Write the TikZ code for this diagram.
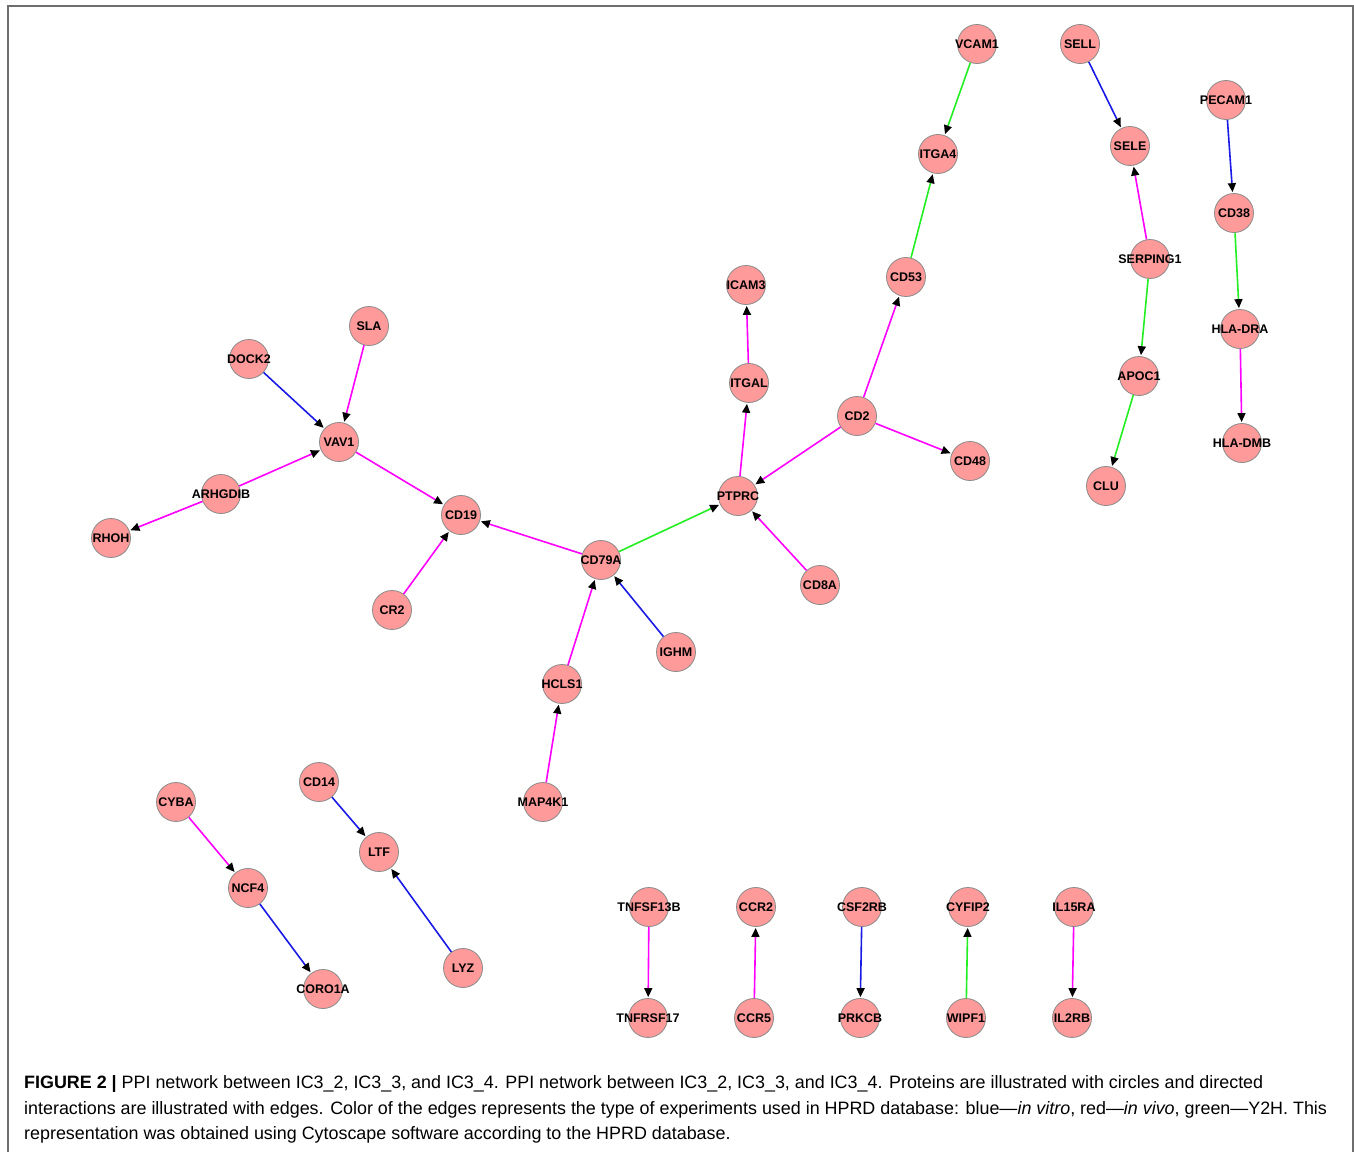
\documentclass[tikz,border=0pt]{standalone}
\usepackage{fontspec}
\setmainfont[Ligatures=TeX]{Liberation Sans}
\newfontfamily\capfont[Ligatures=TeX]{Liberation Sans}
\usetikzlibrary{arrows.meta}
\definecolor{nodefill}{HTML}{FF9A9A}
\definecolor{nodeline}{HTML}{8A8A8A}
\definecolor{emag}{HTML}{FF00FF}
\definecolor{eblue}{HTML}{1A1AE6}
\definecolor{egreen}{HTML}{22EE22}
\definecolor{framecol}{HTML}{6E6E6E}
\newcommand{\plab}[1]{\makebox[0pt][c]{#1}}
\begin{document}
\begin{tikzpicture}[x=1pt,y=-1pt,
  prot/.style={circle,draw=nodeline,line width=0.8pt,fill=nodefill,minimum size=39pt,inner sep=0pt,
    font=\fontsize{12.5}{12.5}\selectfont\bfseries},
  link/.style={line width=1.6pt,-{Triangle[black,length=9pt,width=8pt]},shorten >=1pt},
  mag/.style={link,draw=emag},
  blu/.style={link,draw=eblue},
  grn/.style={link,draw=egreen},
  captext/.style={anchor=west,inner sep=0pt,font=\capfont\fontsize{17.9}{22}\selectfont}]
\useasboundingbox (0,0) rectangle (1354,1151);
\draw[framecol,line width=1.3pt] (8,1170) -- (8,6) -- (1353,6) -- (1353,1170);
% nodes
\node[prot] (VCAM1) at (977,44) {\plab{VCAM1}};
\node[prot] (SELL) at (1080,44) {\plab{SELL}};
\node[prot] (PECAM1) at (1226,100) {\plab{PECAM1}};
\node[prot] (ITGA4) at (938,154) {\plab{ITGA4}};
\node[prot] (SELE) at (1130,146) {\plab{SELE}};
\node[prot] (CD38) at (1234,213) {\plab{CD38}};
\node[prot] (CD53) at (906,277) {\plab{CD53}};
\node[prot] (SERPING1) at (1150,259) {\plab{SERPING1}};
\node[prot] (ICAM3) at (746,285) {\plab{ICAM3}};
\node[prot] (HLADRA) at (1240,329) {\plab{HLA-DRA}};
\node[prot] (SLA) at (369,326) {\plab{SLA}};
\node[prot] (DOCK2) at (249,359) {\plab{DOCK2}};
\node[prot] (ITGAL) at (749,383) {\plab{ITGAL}};
\node[prot] (APOC1) at (1139,376) {\plab{APOC1}};
\node[prot] (CD2) at (857,416) {\plab{CD2}};
\node[prot] (VAV1) at (339,442) {\plab{VAV1}};
\node[prot] (HLADMB) at (1242,443) {\plab{HLA-DMB}};
\node[prot] (CD48) at (970,461) {\plab{CD48}};
\node[prot] (CLU) at (1106,486) {\plab{CLU}};
\node[prot] (ARHGDIB) at (221,494) {\plab{ARHGDIB}};
\node[prot] (PTPRC) at (738,496) {\plab{PTPRC}};
\node[prot] (CD19) at (461,515) {\plab{CD19}};
\node[prot] (RHOH) at (111,538) {\plab{RHOH}};
\node[prot] (CD79A) at (601,560) {\plab{CD79A}};
\node[prot] (CD8A) at (820,585) {\plab{CD8A}};
\node[prot] (CR2) at (392,610) {\plab{CR2}};
\node[prot] (IGHM) at (676,652) {\plab{IGHM}};
\node[prot] (HCLS1) at (562,684) {\plab{HCLS1}};
\node[prot] (CD14) at (319,782) {\plab{CD14}};
\node[prot] (CYBA) at (176,802) {\plab{CYBA}};
\node[prot] (MAP4K1) at (543,802) {\plab{MAP4K1}};
\node[prot] (LTF) at (379,852) {\plab{LTF}};
\node[prot] (NCF4) at (248,888) {\plab{NCF4}};
\node[prot] (LYZ) at (463,968) {\plab{LYZ}};
\node[prot] (CORO1A) at (323,989) {\plab{CORO1A}};
\node[prot] (TNFSF13B) at (649,907) {\plab{TNFSF13B}};
\node[prot] (TNFRSF17) at (648,1018) {\plab{TNFRSF17}};
\node[prot] (CCR2) at (756,907) {\plab{CCR2}};
\node[prot] (CCR5) at (754,1018) {\plab{CCR5}};
\node[prot] (CSF2RB) at (862,907) {\plab{CSF2RB}};
\node[prot] (PRKCB) at (860,1018) {\plab{PRKCB}};
\node[prot] (CYFIP2) at (968,907) {\plab{CYFIP2}};
\node[prot] (WIPF1) at (966,1018) {\plab{WIPF1}};
\node[prot] (IL15RA) at (1074,907) {\plab{IL15RA}};
\node[prot] (IL2RB) at (1072,1018) {\plab{IL2RB}};
% edges
\draw[grn] (VCAM1) -- (ITGA4);
\draw[grn] (CD53) -- (ITGA4);
\draw[mag] (CD2) -- (CD53);
\draw[mag] (CD2) -- (CD48);
\draw[mag] (CD2) -- (PTPRC);
\draw[mag] (ITGAL) -- (ICAM3);
\draw[mag] (PTPRC) -- (ITGAL);
\draw[mag] (CD8A) -- (PTPRC);
\draw[grn] (CD79A) -- (PTPRC);
\draw[mag] (CD79A) -- (CD19);
\draw[mag] (VAV1) -- (CD19);
\draw[mag] (CR2) -- (CD19);
\draw[blu] (IGHM) -- (CD79A);
\draw[mag] (HCLS1) -- (CD79A);
\draw[mag] (MAP4K1) -- (HCLS1);
\draw[mag] (SLA) -- (VAV1);
\draw[blu] (DOCK2) -- (VAV1);
\draw[mag] (ARHGDIB) -- (VAV1);
\draw[mag] (ARHGDIB) -- (RHOH);
\draw[blu] (SELL) -- (SELE);
\draw[mag] (SERPING1) -- (SELE);
\draw[grn] (SERPING1) -- (APOC1);
\draw[grn] (APOC1) -- (CLU);
\draw[blu] (PECAM1) -- (CD38);
\draw[grn] (CD38) -- (HLADRA);
\draw[mag] (HLADRA) -- (HLADMB);
\draw[mag] (CYBA) -- (NCF4);
\draw[blu] (NCF4) -- (CORO1A);
\draw[blu] (CD14) -- (LTF);
\draw[blu] (LYZ) -- (LTF);
\draw[mag] (TNFSF13B) -- (TNFRSF17);
\draw[mag] (CCR5) -- (CCR2);
\draw[blu] (CSF2RB) -- (PRKCB);
\draw[grn] (WIPF1) -- (CYFIP2);
\draw[mag] (IL15RA) -- (IL2RB);
% caption
\node[captext] (cap1) at (24,1084) {\textbf{FIGURE 2 |} PPI network between IC3\_2, IC3\_3, and IC3\_4. PPI network between IC3\_2, IC3\_3, and IC3\_4. Proteins are illustrated with circles and directed};
\node[captext] (cap2) at (24,1110) {interactions are illustrated with edges. Color of the edges represents the type of experiments used in HPRD database: blue—\textit{in vitro}, red—\textit{in vivo}, green—Y2H. This};
\node[captext] (cap3) at (24,1135) {representation was obtained using Cytoscape software according to the HPRD database.};
\end{tikzpicture}
\end{document}
